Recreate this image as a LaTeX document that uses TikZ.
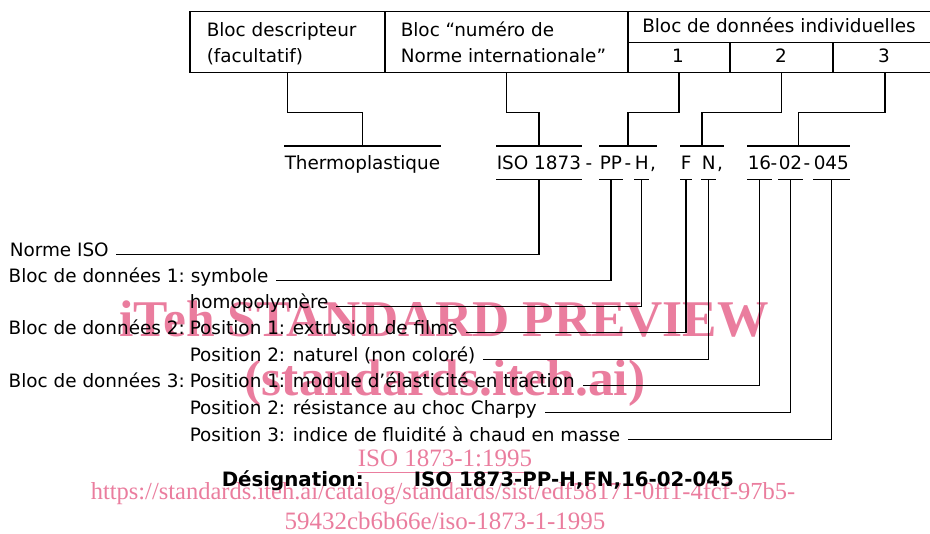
\documentclass[tikz,border=0pt]{standalone}
\usepackage{fontspec}
\setmainfont{DejaVu Sans}
\newfontfamily\wmfont{Liberation Serif}
\usetikzlibrary{calc}
\definecolor{wmpink}{RGB}{234,125,158}
\begin{document}
\begin{tikzpicture}[x=1pt,y=-1pt,line width=1.5pt,
  txt/.style={inner sep=0pt,font=\fontsize{18.4}{22}\selectfont},
  lbl/.style={txt,anchor=base west},
  des/.style={txt,anchor=base west,text height=13.4pt,text depth=0pt},
  desc/.style={des,anchor=base},
  box/.style={draw,inner sep=0pt,anchor=north west},
  wm/.style={inner sep=0pt,text=wmpink,anchor=base},
  bold/.style={inner sep=0pt,anchor=base west,font=\fontsize{19.8}{24}\selectfont\bfseries}]
\useasboundingbox (0,0) rectangle (930,534);

% watermark (behind)
\node[wm,font=\wmfont\bfseries\fontsize{51.5}{60}\selectfont] (wm1) at (444,337) {iTeh STANDARD PREVIEW};
\node[wm,font=\wmfont\bfseries\fontsize{51.5}{60}\selectfont] (wm2) at (445,396) {(standards.iteh.ai)};
\node[wm,font=\wmfont\fontsize{25}{30}\selectfont] (wm3) at (445,467) {ISO 1873-1:1995};
\draw[wmpink,line width=1pt] ([yshift=-6pt]wm3.base west) -- ([yshift=-6pt]wm3.base east);
\node[wm,font=\wmfont\fontsize{24.5}{30}\selectfont] (wm4) at (443,500) {https://standards.iteh.ai/catalog/standards/sist/edf58171-0ff1-4fcf-97b5-};
\node[wm,font=\wmfont\fontsize{25}{30}\selectfont] (wm5) at (445,530) {59432cb6b66e/iso-1873-1-1995};

% top boxes
\node[box,minimum width=195pt,minimum height=61pt] (box1) at (189,11) {};
\node[box,minimum width=243pt,minimum height=61pt] (box2) at (384,11) {};
\node[box,minimum width=309pt,minimum height=31pt] (b3h) at (627,11) {};
\node[box,minimum width=102pt,minimum height=30pt] (b31) at (627,42) {};
\node[box,minimum width=103pt,minimum height=30pt] (b32) at (729,42) {};
\node[box,minimum width=104pt,minimum height=30pt] (b33) at (832,42) {};

\node[lbl] (t1a) at (206,37) {Bloc descripteur};
\node[lbl] (t1b) at (206,63) {(facultatif)};
\node[lbl] (t2a) at (400,37) {Bloc “numéro de};
\node[lbl] (t2b) at (400,63) {Norme internationale”};
\node[txt,anchor=base] (t3) at (779,33) {Bloc de données individuelles};
\node[txt,anchor=base] (n1) at (678,63) {1};
\node[txt,anchor=base] (n2) at (781,63) {2};
\node[txt,anchor=base] (n3) at (884,63) {3};

% designation row
\node[des] (thermo) at (284,170) {Thermoplastique};
\node[des] (iso) at (496,170) {ISO 1873};
\node[desc] (d1) at (589,170) {-};
\node[des] (pp) at (599,170) {PP};
\node[desc] (d2) at (628,170) {-};
\node[des] (hh) at (634,170) {H};
\node[des] (c1) at (hh.base east) {,};
\node[des] (ff) at (680,170) {F};
\node[des] (nn) at (701,170) {N};
\node[des] (c2) at (nn.base east) {,};
\node[des] (n16) at (747,170) {16};
\node[desc] (d3) at (774,170) {-};
\node[des] (n02) at (778,170) {02};
\node[desc] (d4) at (807,170) {-};
\node[des] (n045) at (813,170) {045};

% overlines
\draw ([yshift=10pt]thermo.north west) -- ([yshift=10pt]thermo.north east) coordinate[pos=.5] (ovT);
\draw ([yshift=10pt]iso.north west) -- ([yshift=10pt]iso.north east) coordinate[pos=.5] (ovI);
\draw ([yshift=10pt]pp.north west) -- ([yshift=10pt]c1.north east) coordinate[pos=.5] (ovP);
\draw ([yshift=10pt]ff.north west) -- ([yshift=10pt]c2.north east) coordinate[pos=.5] (ovF);
\draw ([yshift=10pt]n16.north west) -- ([yshift=10pt]n045.north east) coordinate[pos=.5] (ovN);

% box connectors
\draw (box1.south) -- ++(0,39) -| (ovT);
\draw (box2.south) -- ++(0,39) -| (ovI);
\draw (b31.south) -- ++(0,39) -| (ovP);
\draw (b32.south) -- ++(0,39) -| (ovF);
\draw (b33.south) -- ++(0,39) -| (ovN);

% labels
\node[lbl] (lnorme) at (9,257) {Norme ISO};
\node[lbl] (lb1) at (8,283) {Bloc de données 1:};
\node[lbl] (lsym) at (190,283) {symbole};
\node[lbl] (lhomo) at (189,309) {homopolymère};
\node[lbl] (lb2) at (8,335) {Bloc de données 2:};
\node[lbl] (lp21) at (189,335) {Position 1: extrusion de films};
\node[lbl] (lp22) at (189,362) {Position 2: naturel (non coloré)};
\node[lbl] (lb3) at (8,388) {Bloc de données 3:};
\node[lbl] (lp31) at (189,388) {Position 1: module d’élasticité en traction};
\node[lbl] (lp32) at (189,415) {Position 2: résistance au choc Charpy};
\node[lbl] (lp33) at (189,442) {Position 3: indice de fluidité à chaud en masse};

% underlines and leaders
\foreach \n/\l in {iso/lnorme,pp/lsym,hh/lhomo,ff/lp21,nn/lp22,n16/lp31,n02/lp32,n045/lp33}{
  \draw ([yshift=-9pt]\n.south west) -- ([yshift=-9pt]\n.south east);
  \draw ([yshift=-9pt]\n.south) |- ([xshift=7pt]\l.mid east);
}

% designation
\node[bold] (dlab) at (221,487) {Désignation:};
\node[bold] (dval) at (413,487) {ISO 1873-PP-H,FN,16-02-045};
\end{tikzpicture}
\end{document}
